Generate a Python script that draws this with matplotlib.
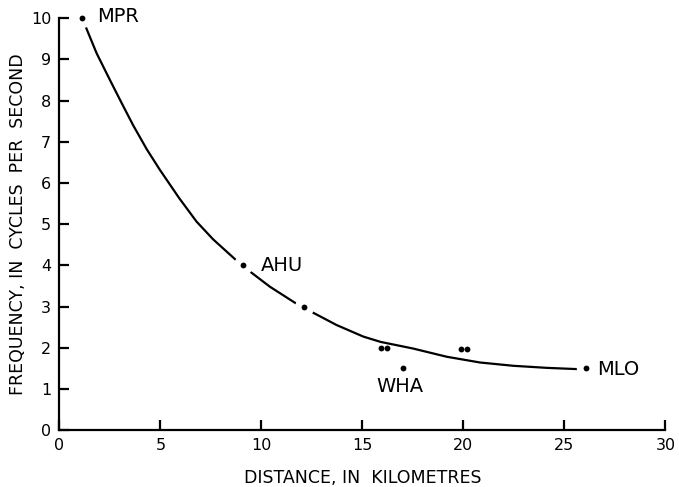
import matplotlib
matplotlib.use("Agg")
import matplotlib.pyplot as plt

plt.rcParams['font.family'] = ['DejaVu Sans']

# Observed stations (distance km, frequency c/s)
pts_x = [1.1, 9.1, 12.1, 15.9, 16.2, 17.0, 19.9, 20.2, 26.05]
pts_y = [10.0, 4.0, 3.0, 2.0, 2.0, 1.5, 1.97, 1.97, 1.5]
# stations lying on the curve (curve is broken around them)
on_curve = [0, 1, 2, 8]

# Station labels
lab_text = ["MPR", "AHU", "WHA", "MLO"]
lab_x = [1.85, 9.95, 15.7, 26.6]
lab_y = [10.05, 4.0, 1.05, 1.48]

# Fitted curve
curve_x = [1.26, 1.84, 2.5, 3.08, 3.65, 4.32, 4.97, 5.93, 6.79, 7.61, 8.69,
           9.43, 10.42, 11.66, 12.48, 13.72, 15.04, 15.9, 17.5, 19.17,
           20.82, 22.47, 24.12, 25.6]
curve_y = [9.84, 9.15, 8.50, 7.94, 7.40, 6.82, 6.32, 5.63, 5.06, 4.63, 4.15,
           3.85, 3.48, 3.09, 2.87, 2.55, 2.27, 2.14, 1.98, 1.78,
           1.64, 1.56, 1.51, 1.48]

xticks = [0, 5, 10, 15, 20, 25, 30]
yticks = list(range(0, 11))

fig = plt.figure(figsize=(6.79, 4.87), dpi=100)
ax = fig.add_axes([0.0876, 0.117, 0.8924, 0.8454])
ax.set_xlim(0, 30)
ax.set_ylim(0, 10)

ax.plot(curve_x, curve_y, color='black', lw=1.6, zorder=2, clip_on=False,
        solid_joinstyle='round')
hx = [pts_x[i] for i in on_curve]
hy = [pts_y[i] for i in on_curve]
ax.plot(hx, hy, 'o', ms=14, color='white', mec='none', zorder=3, clip_on=False)
ax.plot(pts_x, pts_y, 'o', ms=4.2, color='black', mec='none', zorder=4, clip_on=False)

for t, x, y in zip(lab_text, lab_x, lab_y):
    ax.text(x, y, t, fontsize=14, ha='left', va='center', zorder=5)

for s in ['top', 'right']:
    ax.spines[s].set_visible(False)
for s in ['left', 'bottom']:
    ax.spines[s].set_linewidth(1.6)

ax.set_xticks(xticks)
ax.set_yticks(yticks)
ax.tick_params(direction='in', length=7, width=1.6, labelsize=11.5, pad=6)

ax.set_xlabel("DISTANCE, IN  KILOMETRES", fontsize=12.5, labelpad=11)
ax.set_ylabel("FREQUENCY, IN  CYCLES  PER  SECOND", fontsize=12.5, labelpad=3)

fig.savefig("out.png", dpi=100)
